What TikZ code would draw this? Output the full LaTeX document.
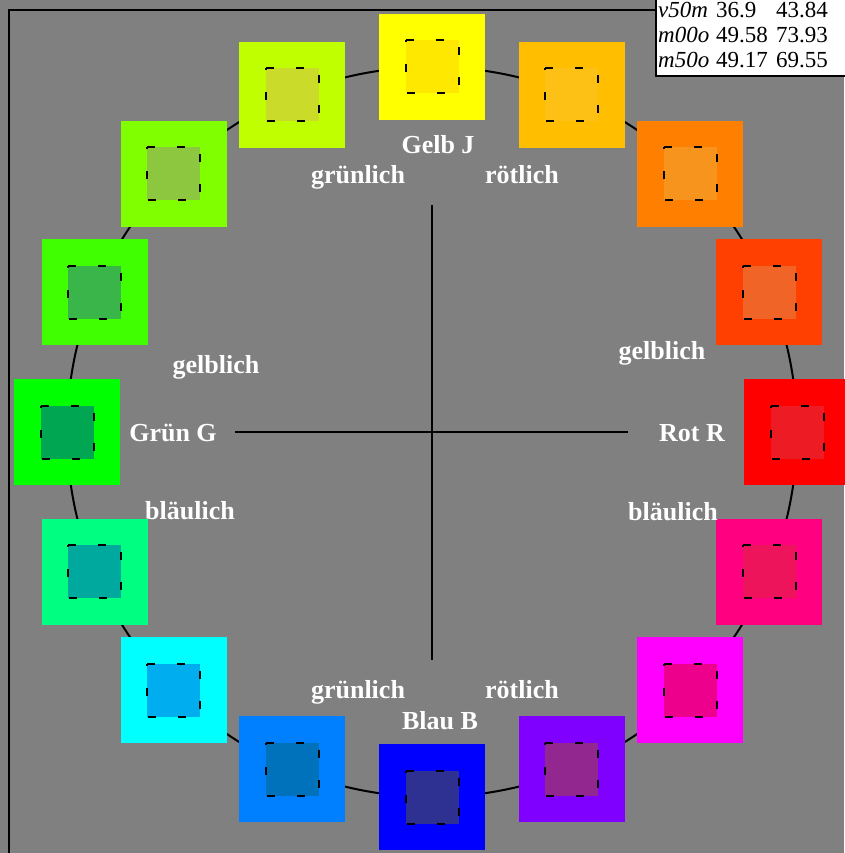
\documentclass[tikz,border=0pt]{standalone}
\usepackage{fontspec}
\setmainfont{Liberation Serif}
\usepackage{tikz}
\usetikzlibrary{positioning}
\definecolor{bggray}{HTML}{808080}
% outer hue squares
\definecolor{ring0}{HTML}{FF0000}
\definecolor{ring1}{HTML}{FF4000}
\definecolor{ring2}{HTML}{FF8000}
\definecolor{ring3}{HTML}{FFBF00}
\definecolor{ring4}{HTML}{FFFF00}
\definecolor{ring5}{HTML}{BFFF00}
\definecolor{ring6}{HTML}{80FF00}
\definecolor{ring7}{HTML}{40FF00}
\definecolor{ring8}{HTML}{00FF00}
\definecolor{ring9}{HTML}{00FF80}
\definecolor{ring10}{HTML}{00FFFF}
\definecolor{ring11}{HTML}{0080FF}
\definecolor{ring12}{HTML}{0000FF}
\definecolor{ring13}{HTML}{8000FF}
\definecolor{ring14}{HTML}{FF00FF}
\definecolor{ring15}{HTML}{FF0080}
% inner squares
\definecolor{core0}{HTML}{ED1C24}
\definecolor{core1}{HTML}{F06428}
\definecolor{core2}{HTML}{F7941D}
\definecolor{core3}{HTML}{FDC014}
\definecolor{core4}{HTML}{FFE800}
\definecolor{core5}{HTML}{CBDB2A}
\definecolor{core6}{HTML}{8DC63F}
\definecolor{core7}{HTML}{39B54A}
\definecolor{core8}{HTML}{00A651}
\definecolor{core9}{HTML}{00A99D}
\definecolor{core10}{HTML}{00AEEF}
\definecolor{core11}{HTML}{0072BC}
\definecolor{core12}{HTML}{2E3192}
\definecolor{core13}{HTML}{92278F}
\definecolor{core14}{HTML}{EC008C}
\definecolor{core15}{HTML}{ED145B}

\begin{document}
\begin{tikzpicture}[
  x=1pt,y=-1pt,
  font=\fontsize{26}{30}\selectfont\bfseries,
  ring/.style={minimum size=106pt,inner sep=0pt,outer sep=0pt},
  core/.style={minimum size=53pt,inner sep=0pt,outer sep=0pt},
  coredash/.style={line width=2pt,dash pattern=on 8pt off 22pt},
  word/.style={text=white,anchor=base,inner sep=0pt},
  rule/.style={line width=2pt},
]
\useasboundingbox[fill=bggray] (0,0) rectangle (844,853);
\coordinate (ctr) at (432,432);
\draw[rule] (ctr) circle [radius=365pt];
\foreach \i in {0,...,15}{
  \node[ring,fill=ring\i] (sq\i) at ({432+365*cos(\i*22.5)},{432-365*sin(\i*22.5)}) {};
  \node[core,fill=core\i] (in\i) at (sq\i) {};
  \draw[coredash] (in\i.north west) -- (in\i.north east) -- (in\i.south east) -- (in\i.south west) -- cycle;
}
% axes
\coordinate (axW) at (235,432);
\coordinate (axE) at (628,432);
\coordinate (axN) at (432,205);
\coordinate (axS) at (432,660);
\draw[rule] (axW) -- (axE);
\draw[rule] (axN) -- (axS);
% labels
\node[word] (gelb) at (438,154) {Gelb J};
\node[word] (gelbG) at (358,183) {grünlich};
\node[word] (gelbR) at (522,183) {rötlich};
\node[word] (gruenJ) at (216,373) {gelblich};
\node[word] (gruen) at (173,441) {Grün G};
\node[word] (gruenB) at (190,519) {bläulich};
\node[word] (rotJ) at (662,359) {gelblich};
\node[word] (rot) at (692,441) {Rot R};
\node[word] (rotB) at (673,520) {bläulich};
\node[word] (blauG) at (358,698) {grünlich};
\node[word] (blauR) at (522,698) {rötlich};
\node[word] (blau) at (440,729) {Blau B};
% frame
\coordinate (frmB) at (9,860);
\coordinate (frmC) at (9,10);
\coordinate (frmR) at (655,10);
\draw[rule] (frmB) -- (frmC) -- (frmR);
% value table
\node[draw,fill=white,line width=1.5pt,minimum width=200pt,minimum height=90pt,
  anchor=south west,inner sep=0pt] (legend) at (655,77) {};
\node[anchor=base west,inner sep=0pt,font=\fontsize{23}{25}\selectfont] (vals) at (658,18)
  {\begin{tabular}[t]{@{}p{58pt}@{}p{60pt}@{}l@{}}
   \textit{v50m} & 36.9 & 43.84\\
   \textit{m00o} & 49.58 & 73.93\\
   \textit{m50o} & 49.17 & 69.55
   \end{tabular}};
\end{tikzpicture}
\end{document}
